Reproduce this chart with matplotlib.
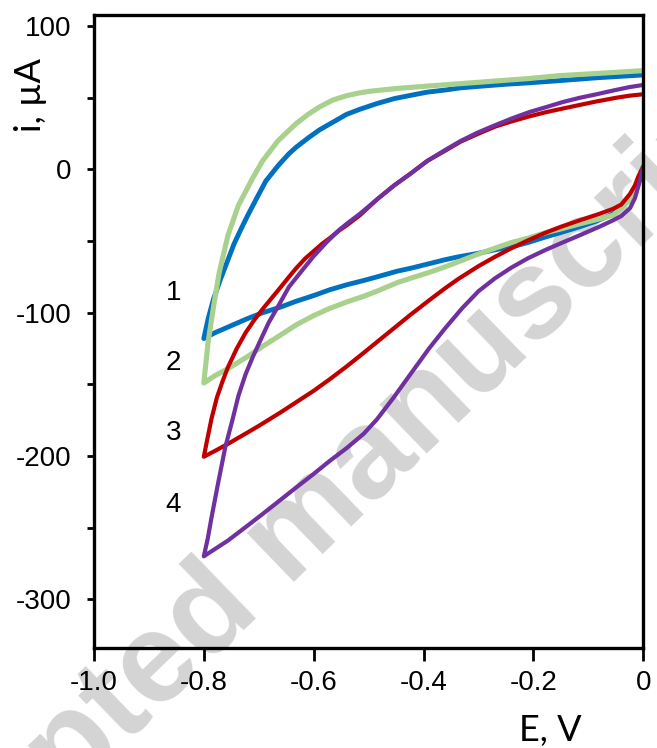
import matplotlib
matplotlib.use("Agg")
from matplotlib import pyplot as plt

plt.rcParams['font.family'] = ['Liberation Sans', 'DejaVu Sans']

# 1 - blue (sweep 0 -> -0.8 V, then back to 0 V)
e1_down = [0, -0.005, -0.01, -0.024, -0.055, -0.085, -0.116, -0.15, -0.177, -0.21, -0.24, -0.269,
           -0.3, -0.337, -0.361, -0.387, -0.424, -0.448, -0.485, -0.509, -0.54, -0.571, -0.6,
           -0.632, -0.66, -0.693, -0.72, -0.756, -0.78, -0.8]
i1_down = [2, -5, -11, -21, -31, -36, -40, -44, -47, -51, -54, -56, -58.5, -61, -63, -65.5, -69,
           -71, -75, -77.5, -80.5, -84, -88, -92, -96, -100, -104, -110, -114, -118]
e1_up = [-0.8, -0.792, -0.782, -0.77, -0.756, -0.745, -0.734, -0.72, -0.705, -0.687, -0.664,
         -0.645, -0.632, -0.61, -0.59, -0.565, -0.54, -0.516, -0.485, -0.453, -0.42, -0.393,
         -0.36, -0.332, -0.3, -0.25, -0.208, -0.153, -0.085, 0]
i1_up = [-118, -104, -90, -77, -63, -52, -43, -32, -21, -8, 3, 11, 15.5, 22, 27.5, 33, 38.5, 42,
         46, 49.5, 52, 54, 55.5, 57, 58, 59.5, 60.5, 62, 64, 66]

# 2 - green
e2_down = [0, -0.005, -0.009, -0.015, -0.024, -0.04, -0.055, -0.085, -0.116, -0.15, -0.177,
           -0.21, -0.24, -0.27, -0.3, -0.337, -0.361, -0.387, -0.424, -0.448, -0.485, -0.509,
           -0.54, -0.571, -0.6, -0.632, -0.66, -0.693, -0.72, -0.756, -0.78, -0.8]
i2_down = [2, -3, -7, -14, -21, -27, -32, -35, -38, -41.5, -44, -48, -51, -55, -59, -64.5, -68,
           -71.5, -76, -79, -85, -88.5, -92.5, -97, -102, -108.5, -115.5, -123.5, -130.5, -139,
           -144, -149]
e2_up = [-0.8, -0.792, -0.782, -0.772, -0.756, -0.737, -0.711, -0.693, -0.665, -0.632, -0.61,
         -0.59, -0.565, -0.54, -0.52, -0.5, -0.45, -0.4, -0.33, -0.208, -0.153, -0.085, 0]
i2_up = [-149, -120, -95, -72, -46, -25, -6, 6, 20, 32, 38.5, 43.5, 48.5, 51.5, 53.2, 54.5, 56.5,
         58, 60, 63.5, 65.5, 67, 69]

# 3 - red
e3_down = [0, -0.004, -0.009, -0.015, -0.024, -0.04, -0.055, -0.08, -0.116, -0.15, -0.177,
           -0.21, -0.24, -0.27, -0.3, -0.337, -0.361, -0.387, -0.424, -0.448, -0.485, -0.509,
           -0.54, -0.571, -0.6, -0.632, -0.66, -0.7, -0.72, -0.756, -0.78, -0.8]
i3_down = [2, -1, -5, -11, -17, -24.5, -27.5, -31, -35.5, -40, -44, -49.5, -55, -61, -67.5,
           -76.5, -83, -90.5, -101.5, -109, -120.5, -128, -137.5, -146.5, -154.5, -162.5, -169.5,
           -179, -183.5, -191.5, -196.5, -200.5]
e3_up = [-0.8, -0.794, -0.786, -0.776, -0.766, -0.756, -0.74, -0.724, -0.708, -0.693, -0.678,
         -0.664, -0.645, -0.632, -0.615, -0.6, -0.585, -0.571, -0.555, -0.54, -0.516, -0.485,
         -0.453, -0.424, -0.393, -0.361, -0.332, -0.3, -0.269, -0.24, -0.208, -0.177, -0.147,
         -0.116, -0.085, -0.05, -0.025, 0]
i3_up = [-200.5, -189, -174, -159, -148, -138, -125, -114, -105, -97.5, -90.5, -84, -75, -69,
         -62, -57, -52, -48, -43, -39, -32, -21, -11, -3, 6, 13, 19.5, 25, 30, 33.5, 37, 40,
         42.5, 45, 47.5, 50, 51.5, 52.5]

# 4 - purple
e4_down = [0, -0.004, -0.009, -0.015, -0.024, -0.04, -0.055, -0.08, -0.116, -0.15, -0.177,
           -0.21, -0.24, -0.27, -0.3, -0.33, -0.361, -0.39, -0.424, -0.455, -0.485, -0.509,
           -0.54, -0.571, -0.6, -0.632, -0.66, -0.693, -0.72, -0.756, -0.78, -0.8]
i4_down = [2, -5, -12, -20, -27, -32.5, -35.5, -40, -46, -51.5, -56, -62, -68.5, -76, -85, -97,
           -111, -125, -143, -159.5, -174.5, -184.5, -194.5, -203.5, -212.5, -222, -230.5, -240.5,
           -248.5, -259, -265, -270]
e4_up = [-0.8, -0.793, -0.786, -0.774, -0.761, -0.748, -0.737, -0.724, -0.711, -0.693, -0.682,
         -0.664, -0.645, -0.62, -0.601, -0.577, -0.553, -0.54, -0.516, -0.485, -0.453, -0.424,
         -0.393, -0.361, -0.332, -0.3, -0.269, -0.24, -0.208, -0.177, -0.147, -0.116, -0.085,
         -0.05, -0.025, 0]
i4_up = [-270, -258, -243, -219, -194, -175, -158, -143, -131, -116, -107, -95, -82, -70, -61,
         -51, -42, -38, -31, -21, -11, -3, 6, 13.5, 20, 26, 31, 35.5, 40, 43.5, 47, 50, 52.5,
         55.5, 57.5, 59]

curve_names = ["1", "2", "3", "4"]
curve_colors = ["#0070C0", "#A9D18E", "#C00000", "#7030A0"]
curve_widths = [3.5, 3.7, 3.0, 3.0]
label_x = -0.855
label_y = [-86, -135, -184, -234]

fig = plt.figure(figsize=(6.57, 7.48), dpi=100)

# watermark behind the plot
fig.text(0.446, 0.282, "Accepted manuscript", rotation=44, rotation_mode='anchor',
         ha='center', va='center', fontsize=92, fontweight='bold', color='#d4d4d4', zorder=-5)

ax = fig.add_axes([0.143, 0.1337, 0.836, 0.846])
ax.set_facecolor('none')

curves = [(e1_down + e1_up, i1_down + i1_up),
          (e2_down + e2_up, i2_down + i2_up),
          (e3_down + e3_up, i3_down + i3_up),
          (e4_down + e4_up, i4_down + i4_up)]
for (e, i), c, lw in zip(curves, curve_colors, curve_widths):
    ax.plot(e, i, color=c, lw=lw, solid_joinstyle='round', solid_capstyle='round')

for name, y in zip(curve_names, label_y):
    ax.text(label_x, y, name, ha='center', va='center', fontsize=20)

ax.set_xlim(-1.0, 0)
ax.set_ylim(-334, 107.7)
ax.set_xticks([-1.0, -0.8, -0.6, -0.4, -0.2, 0])
ax.set_xticklabels(["-1.0", "-0.8", "-0.6", "-0.4", "-0.2", "0"])
ax.set_yticks(range(-300, 101, 50))
ax.set_yticklabels(["-300", "", "-200", "", "-100", "", "0", "", "100"])
ax.tick_params(axis='x', direction='out', length=9, width=2, labelsize=20, pad=6.5)
ax.tick_params(axis='y', direction='out', length=5, width=2, labelsize=20, pad=11)
for s in ax.spines.values():
    s.set_linewidth(2.4)

fig.text(0.837, 0.009, "E, V", fontsize=26, family=['Lato', 'DejaVu Sans'],
         ha='center', va='baseline')
fig.text(0.046, 0.873, "i, µA", fontsize=26, family=['Lato', 'DejaVu Sans'],
         rotation=90, ha='center', va='center')

fig.savefig("out.png", dpi=100)
